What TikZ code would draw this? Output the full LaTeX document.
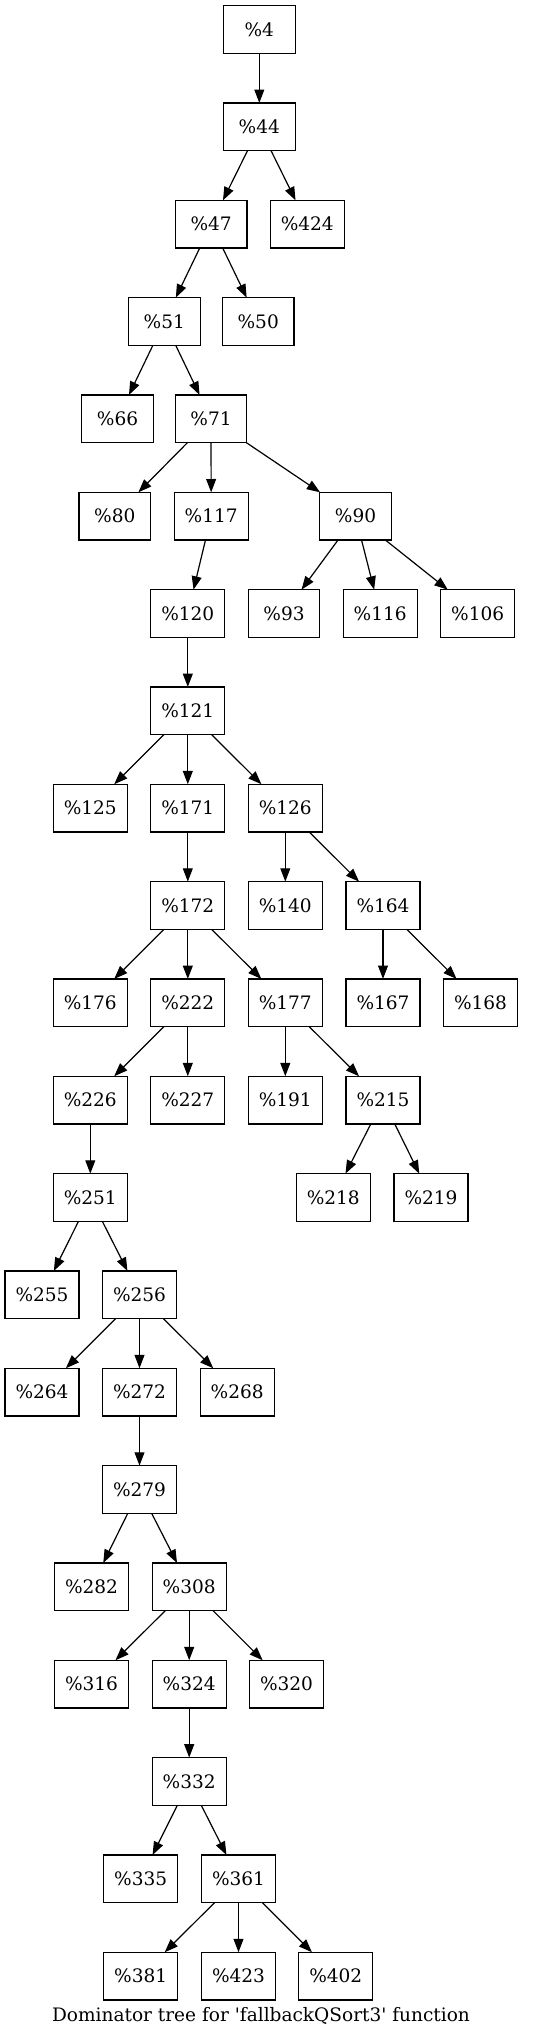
\documentclass[tikz,border=0pt]{standalone}
\usepackage{fontspec}
\setmainfont{DejaVu Serif}
\newfontfamily\capfont{DejaVu Serif}
\usetikzlibrary{arrows.meta}
\begin{document}
\begin{tikzpicture}[x=0.75pt,y=-0.75pt,
  box/.style={draw=black,line width=0.9pt,rectangle,minimum width=53.7pt,minimum height=35.8pt,
    inner xsep=7.95pt,inner ysep=0pt,outer sep=0pt,font=\fontsize{13.9}{16}\selectfont},
  edge/.style={draw=black,line width=0.9pt,-{Triangle[length=10pt,width=7.4pt]}}]
\path[fill=white,use as bounding box] (0,0) rectangle (536,2037);
% row 0
\node[box] (n4) at (259.3,29.5) {\%4};
% row 1
\node[box] (n44) at (259.3,126.8) {\%44};
% row 2
\node[box] (n47) at (211.2,224.2) {\%47};
\node[box] (n424) at (307.3,224.2) {\%424};
% row 3
\node[box] (n51) at (164.3,321.5) {\%51};
\node[box] (n50) at (258.2,321.5) {\%50};
% row 4
\node[box] (n66) at (117.5,418.8) {\%66};
\node[box] (n71) at (211,418.8) {\%71};
% row 5
\node[box] (n80) at (114.8,516.2) {\%80};
\node[box] (n117) at (211.2,516.2) {\%117};
\node[box] (n90) at (355.5,516.2) {\%90};
% row 6
\node[box] (n120) at (187.8,613.5) {\%120};
\node[box] (n93) at (284,613.5) {\%93};
\node[box] (n116) at (380.2,613.5) {\%116};
\node[box] (n106) at (477.7,613.5) {\%106};
% row 7
\node[box] (n121) at (187.8,710.8) {\%121};
% row 8
\node[box] (n125) at (90.3,808.1) {\%125};
\node[box] (n171) at (187.8,808.1) {\%171};
\node[box] (n126) at (285.3,808.1) {\%126};
% row 9
\node[box] (n172) at (187.8,905.5) {\%172};
\node[box] (n140) at (285.3,905.5) {\%140};
\node[box] (n164) at (383,905.5) {\%164};
% row 10
\node[box] (n176) at (90.3,1002.8) {\%176};
\node[box] (n222) at (187.8,1002.8) {\%222};
\node[box] (n177) at (285.3,1002.8) {\%177};
\node[box] (n167) at (383,1002.8) {\%167};
\node[box] (n168) at (480.5,1002.8) {\%168};
% row 11
\node[box] (n226) at (90.3,1100.1) {\%226};
\node[box] (n227) at (187.8,1100.1) {\%227};
\node[box] (n191) at (285.3,1100.1) {\%191};
\node[box] (n215) at (383,1100.1) {\%215};
% row 12
\node[box] (n251) at (90.3,1197.5) {\%251};
\node[box] (n218) at (333.3,1197.5) {\%218};
\node[box] (n219) at (431,1197.5) {\%219};
% row 13
\node[box] (n255) at (42,1294.8) {\%255};
\node[box] (n256) at (139.5,1294.8) {\%256};
% row 14
\node[box] (n264) at (42,1392.1) {\%264};
\node[box] (n272) at (139.5,1392.1) {\%272};
\node[box] (n268) at (237.2,1392.1) {\%268};
% row 15
\node[box] (n279) at (139.5,1489.5) {\%279};
% row 16
\node[box] (n282) at (91.5,1586.8) {\%282};
\node[box] (n308) at (189.2,1586.8) {\%308};
% row 17
\node[box] (n316) at (91.5,1684.1) {\%316};
\node[box] (n324) at (189.2,1684.1) {\%324};
\node[box] (n320) at (286.5,1684.1) {\%320};
% row 18
\node[box] (n332) at (189.2,1781.4) {\%332};
% row 19
\node[box] (n335) at (140.7,1878.8) {\%335};
\node[box] (n361) at (238.5,1878.8) {\%361};
% row 20
\node[box] (n381) at (140.7,1976.1) {\%381};
\node[box] (n423) at (238.5,1976.1) {\%423};
\node[box] (n402) at (335.8,1976.1) {\%402};
% caption
\node[anchor=base,inner sep=0pt,font=\capfont\fontsize{13.9}{16}\selectfont] (cap) at (261,2021.7) {Dominator tree for 'fallbackQSort3' function};
% edges
\foreach \a/\b in {n4/n44, n44/n47, n44/n424, n47/n51, n47/n50, n51/n66, n51/n71,
  n71/n80, n71/n117, n71/n90, n117/n120, n90/n93, n90/n116, n90/n106, n120/n121,
  n121/n125, n121/n171, n121/n126, n171/n172, n126/n140, n126/n164,
  n172/n176, n172/n222, n172/n177, n164/n167, n164/n168, n222/n226, n222/n227,
  n177/n191, n177/n215, n226/n251, n215/n218, n215/n219, n251/n255, n251/n256,
  n256/n264, n256/n272, n256/n268, n272/n279, n279/n282, n279/n308,
  n308/n316, n308/n324, n308/n320, n324/n332, n332/n335, n332/n361,
  n361/n381, n361/n423, n361/n402}
  \draw[edge] (\a) -- (\b);
\end{tikzpicture}
\end{document}
